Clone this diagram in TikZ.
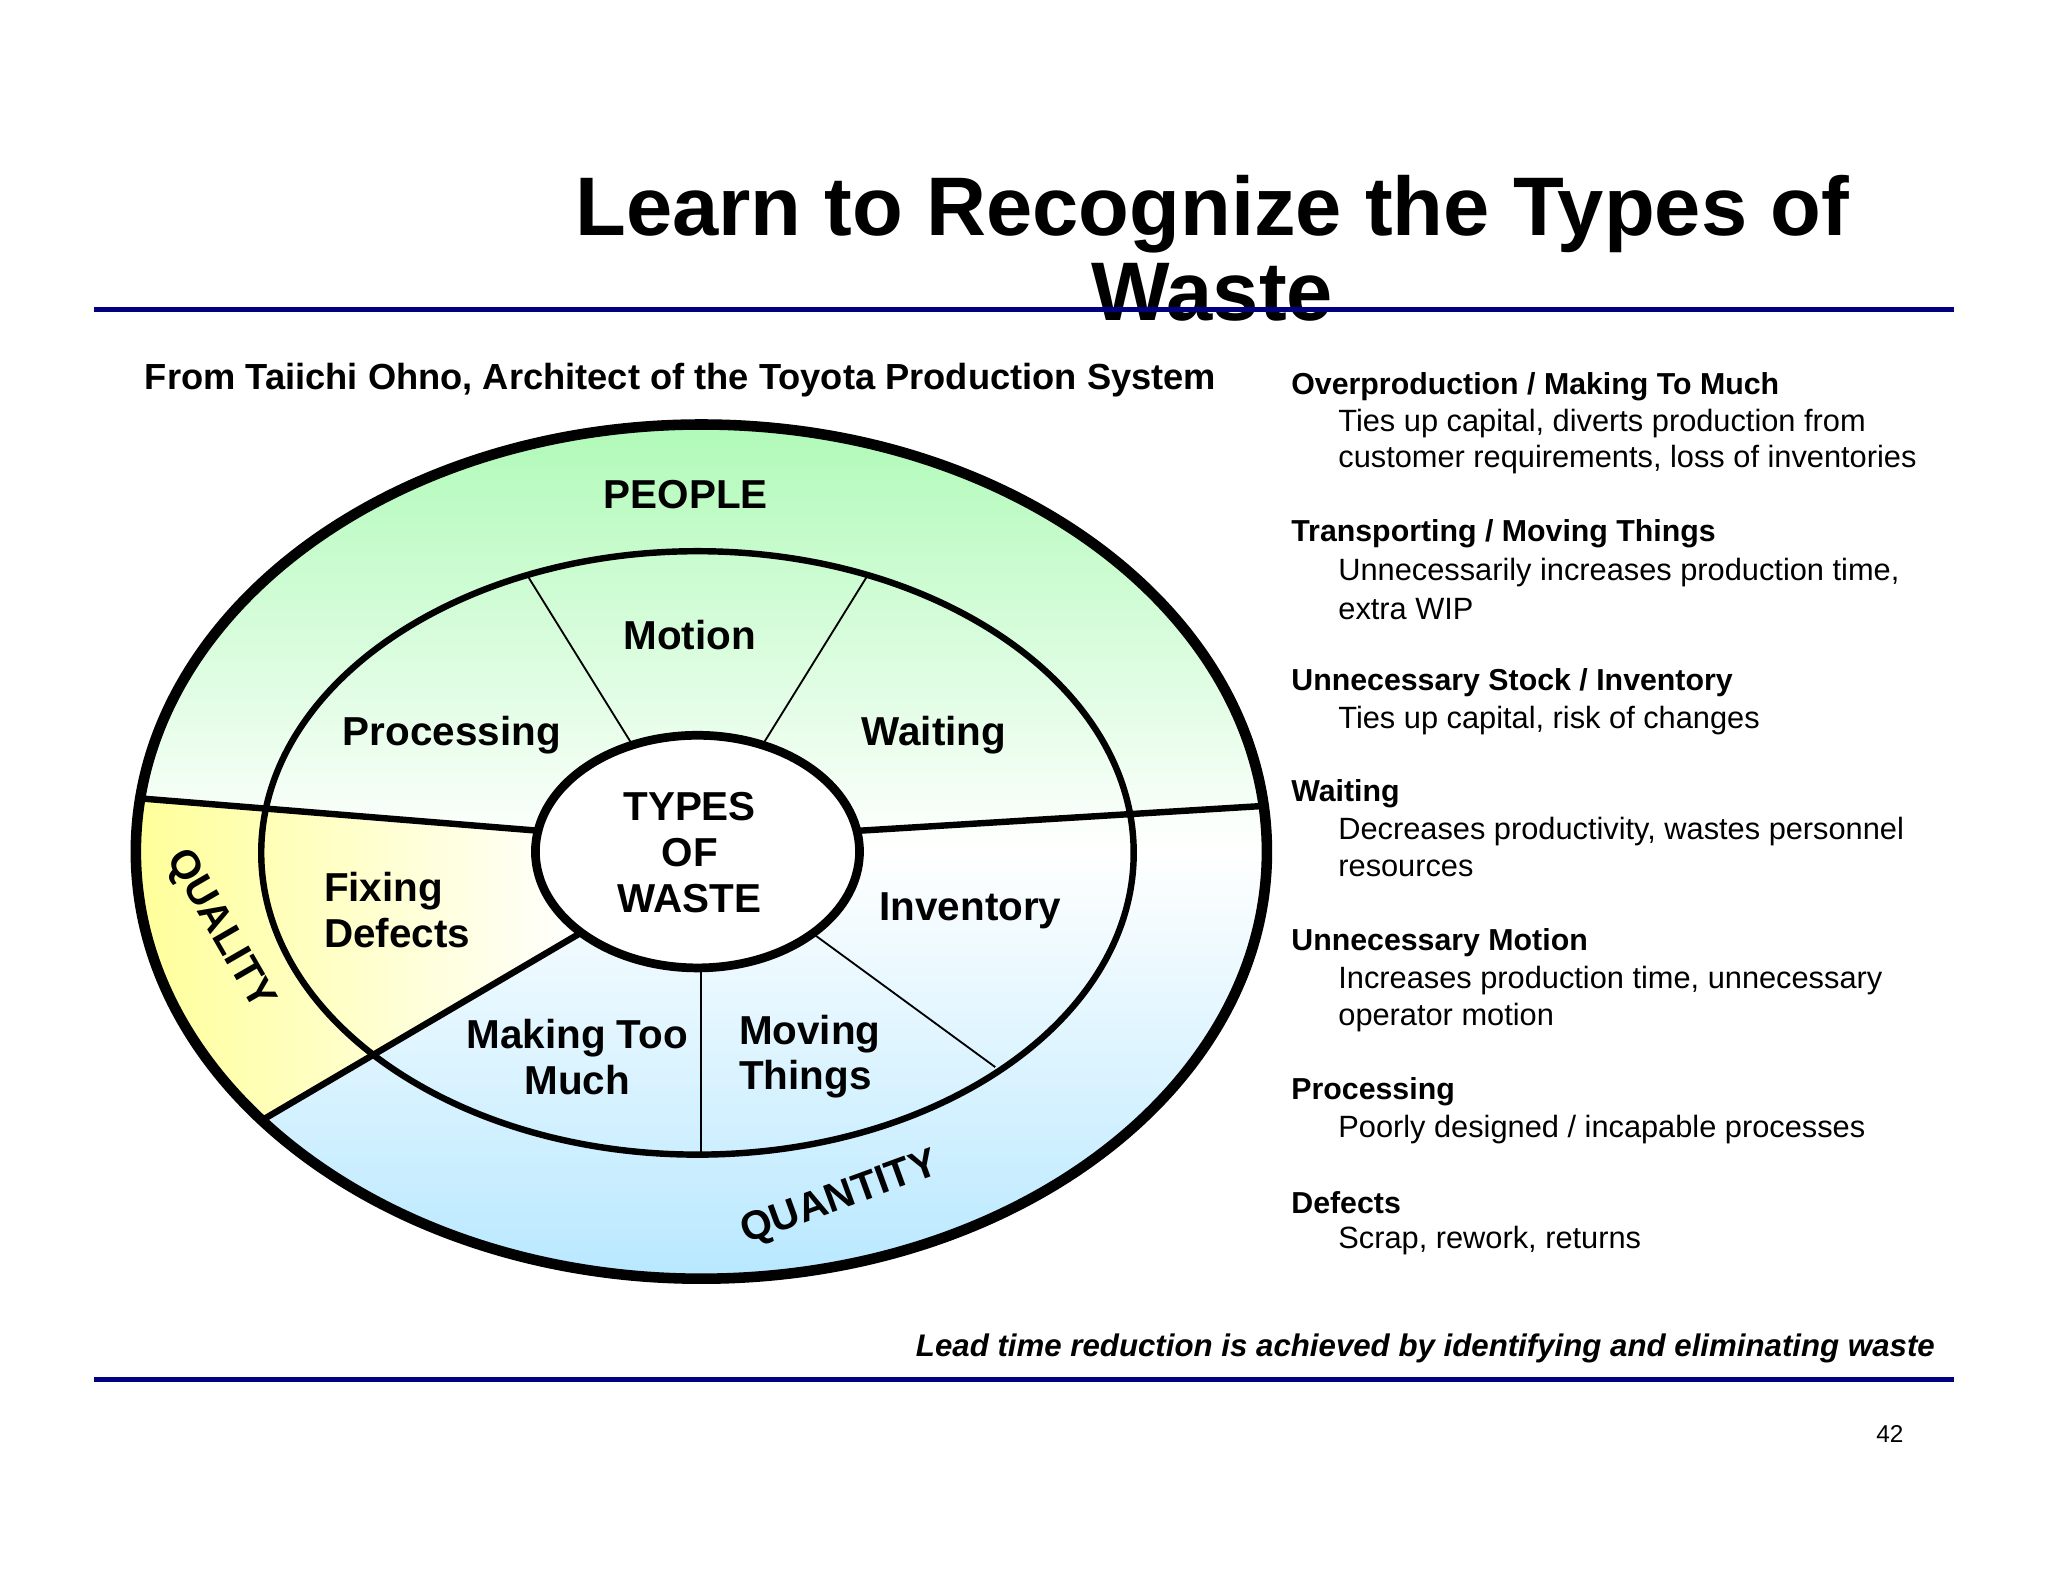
\documentclass[tikz,border=0pt]{standalone}
\usepackage{fontspec}
\setmainfont{Liberation Sans}
\usetikzlibrary{shapes.geometric}
\begin{document}
\begin{tikzpicture}[x=0.01cm,y=-0.01cm,
  lbl/.style={font=\fontsize{8.8pt}{10pt}\selectfont\bfseries,align=center},
  hd/.style={anchor=west,inner sep=0pt,font=\fontsize{6.6pt}{7pt}\selectfont\bfseries},
  bd/.style={anchor=west,inner sep=0pt,font=\fontsize{6.7pt}{7pt}\selectfont},
  thick1/.style={line width=1.4pt},
  thin1/.style={line width=0.4pt}]
\definecolor{navy}{RGB}{0,0,128}
\definecolor{topg}{RGB}{176,250,184}
\definecolor{botb}{RGB}{184,232,255}
\useasboundingbox (0,0) rectangle (1568,1211);
\fill[white] (0,0) rectangle (1568,1211);
% title
\node[font=\fontsize{18.1pt}{18.5pt}\selectfont\bfseries,align=center] (title) at (928,190) {Learn to Recognize the Types of\\Waste};
\draw[navy,line width=1.1pt] (72,237) -- (1496,237);
\draw[navy,line width=1.1pt] (72,1056) -- (1496,1056);
\node[font=\fontsize{7.9pt}{8pt}\selectfont\bfseries] (src) at (521,291) {From Taiichi Ohno, Architect of the Toyota Production System};
% fills
\shade[top color=topg,bottom color=botb,middle color=white] (537,652) ellipse [x radius=433,y radius=327];
\begin{scope}
\clip (537,652) ellipse [x radius=433,y radius=327];
\shade[left color=yellow!45,right color=white] (60,606) -- (410,636) -- (445,714) -- (160,880) -- (60,880) -- cycle;
\end{scope}
% ellipses
\draw[line width=2.3pt] (537,652) ellipse [x radius=433,y radius=327];
\draw[thick1] (534,653) ellipse [x radius=334,y radius=231];
\node[draw,line width=1.9pt,fill=white,ellipse,minimum width=2.48cm,minimum height=1.78cm,inner sep=0pt] (core) at (534,652) {};
\node[lbl] (types) at (528,653) {TYPES\\OF\\WASTE};
% divisions
\coordinate (l1) at (104,611); \coordinate (l2) at (412,636);
\coordinate (r1) at (658,636); \coordinate (r2) at (968,617);
\coordinate (q1) at (445,714); \coordinate (q2) at (200,858);
\draw[thick1] (l1) -- (l2);
\draw[thick1] (r1) -- (r2);
\draw[thick1] (q1) -- (q2);
\coordinate (a1) at (404,441); \coordinate (a2) at (484,570);
\coordinate (b1) at (664,441); \coordinate (b2) at (584,570);
\coordinate (c1) at (537,742); \coordinate (c2) at (537,882);
\coordinate (d1) at (624,716); \coordinate (d2) at (762,817);
\draw[thin1] (a1) -- (a2); \draw[thin1] (b1) -- (b2);
\draw[thin1] (c1) -- (c2); \draw[thin1] (d1) -- (d2);
% labels
\node[lbl] (people) at (525,379) {PEOPLE};
\node[lbl] (motion) at (528,486) {Motion};
\node[lbl] (proc) at (346,563) {Processing};
\node[lbl] (wait) at (715,563) {Waiting};
\node[lbl,align=left] (fix) at (304,697) {Fixing\\Defects};
\node[lbl] (inv) at (743,697) {Inventory};
\node[lbl] (mtm) at (442,809) {Making Too\\Much};
\node[lbl,align=left] (mov) at (620,809) {Moving\\Things};
\node[lbl,rotate=-60,inner sep=0pt] (qual) at (168,712) {QUALITY};
\node[lbl,rotate=20] (quan) at (643,918) {QUANTITY};
% right text
\node[hd] (h1) at (988,296) {Overproduction / Making To Much};
\node[bd] at (1024,324) {Ties up capital, diverts production from};
\node[bd] at (1024,352) {customer requirements, loss of inventories};
\node[hd] (h2) at (988,409) {Transporting / Moving Things};
\node[bd] at (1024,438) {Unnecessarily increases production time,};
\node[bd] at (1024,466) {extra WIP};
\node[hd] (h3) at (988,523) {Unnecessary Stock / Inventory};
\node[bd] at (1024,552) {Ties up capital, risk of changes};
\node[hd] (h4) at (988,608) {Waiting};
\node[bd] at (1024,637) {Decreases productivity, wastes personnel};
\node[bd] at (1024,665) {resources};
\node[hd] (h5) at (988,722) {Unnecessary Motion};
\node[bd] at (1024,751) {Increases production time, unnecessary};
\node[bd] at (1024,779) {operator motion};
\node[hd] (h6) at (988,836) {Processing};
\node[bd] at (1024,865) {Poorly designed / incapable processes};
\node[hd] (h7) at (988,921) {Defects};
\node[bd] at (1024,950) {Scrap, rework, returns};
\node[anchor=east,inner sep=0pt,font=\fontsize{6.8pt}{7pt}\selectfont\bfseries\itshape] (foot) at (1482,1032) {Lead time reduction is achieved by identifying and eliminating waste};
\node[font=\fontsize{5.3pt}{6pt}\selectfont] (pg) at (1447,1098) {42};
\end{tikzpicture}
\end{document}
